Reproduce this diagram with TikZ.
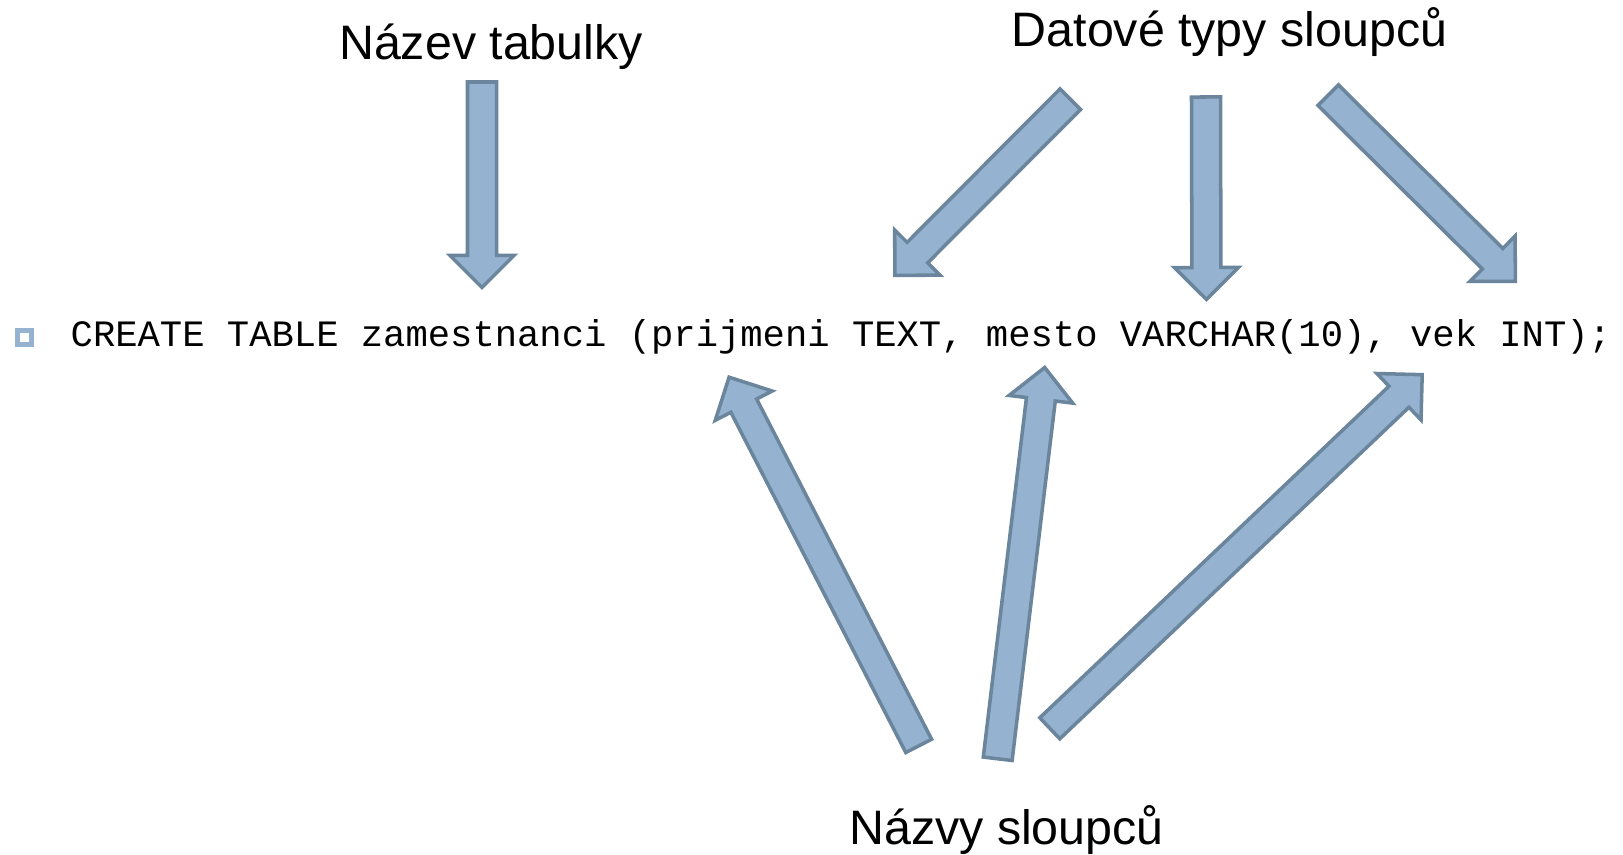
\documentclass[tikz,border=0pt]{standalone}
\usepackage{fontspec}
\setmainfont{Liberation Sans}
\setmonofont{Liberation Mono}
\usetikzlibrary{calc}
\definecolor{sipkafill}{HTML}{95B3D0}
\definecolor{sipkaline}{HTML}{6A859C}
\definecolor{odrazka}{HTML}{95B3D0}

\begin{document}
\begin{tikzpicture}[x=0.01cm, y=-0.01cm]
    \tikzstyle{sipka}=[fill=sipkafill, draw=sipkaline, line width=1pt
    , line join=miter]
    \tikzstyle{popis}=[anchor=base, inner sep=0
    , font=\fontsize{13.75}{16}\selectfont]
    \useasboundingbox (0,0) rectangle (1623,855);
    % Labels
    \node[popis] (nazev) at (491,60) {Název tabulky};
    \node[popis] (typy) at (1229.5,47) {Datové typy sloupců};
    \node[popis] (nazvy) at (1006.5,845) {Názvy sloupců};
    % SQL command with its bullet
    \node[draw=odrazka, line width=1.6pt, minimum size=0.14cm
    , inner sep=0] (odr) at (24.5,337.5) {};
    \node[anchor=base west, inner sep=0
    , font=\ttfamily\fontsize{10.58}{13}\selectfont] (sql) at (70,347)
    {CREATE TABLE zamestnanci (prijmeni TEXT, mesto VARCHAR(10), vek INT);};
    % Ends of the arrows
    \coordinate (a1) at (482,82);       \coordinate (b1) at (482,287.5);
    \coordinate (a2) at (1070.3,99.2);  \coordinate (b2) at (894.8,275.3);
    \coordinate (a3) at (1206,97);      \coordinate (b3) at (1206.5,299.5);
    \coordinate (a4) at (1328.2,95.2);  \coordinate (b4) at (1515.3,281.3);
    \coordinate (a5) at (918.7,745.9);  \coordinate (b5) at (729.1,377.2);
    \coordinate (a6) at (997.7,758.8);  \coordinate (b6) at (1044.7,367.5);
    \coordinate (a7) at (1049.8,728.3); \coordinate (b7) at (1422.2,374.7);
    % Draw the arrows
    \foreach \a/\b in {a1/b1,a2/b2,a3/b3,a4/b4,a5/b5,a6/b6,a7/b7}{
      \coordinate (hb) at ($(\b)!0.32cm!(\a)$);
      \filldraw[sipka] ($(\a)!0.145cm!90:(\b)$) -- ($(hb)!0.145cm!90:(\b)$)
        -- ($(hb)!0.32cm!90:(\b)$) -- (\b) -- ($(hb)!0.32cm!-90:(\b)$)
        -- ($(hb)!0.145cm!-90:(\b)$) -- ($(\a)!0.145cm!-90:(\b)$) -- cycle;
    }
\end{tikzpicture}
\end{document}
